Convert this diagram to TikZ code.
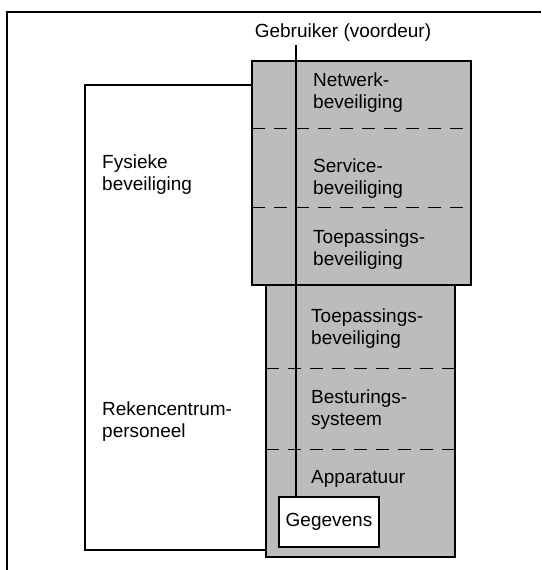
\documentclass[tikz,border=0pt]{standalone}
\usepackage{fontspec}
\setmainfont{Liberation Sans}
\definecolor{layerfill}{RGB}{188,188,188}
\begin{document}
\begin{tikzpicture}[x=1pt,y=-1pt,
  lbl/.style={anchor=base west,inner sep=0pt,align=left,
    font=\fontsize{19}{22}\selectfont},
  layerbox/.style={draw=black,line width=2pt,fill=layerfill},
  layersep/.style={line width=1pt,dash pattern=on 13pt off 9pt},
  wire/.style={line width=1.2pt},
  frameline/.style={line width=1.4pt}]
\useasboundingbox (0,0) rectangle (541,570);

% outer frame (top and left edge only)
\draw[frameline] (541,12) -- (7,12) -- (7,570);

% stacked layer boxes
\path[layerbox] (266,285) rectangle (455,557);
\path[layerbox] (252,61) rectangle (471,285);
\coordinate (upW) at (252,85);
\coordinate (loW) at (266,550);

% dashed separators between the layers
\draw[layersep] (252,128) -- (471,128);
\draw[layersep] (252,207) -- (471,207);
\draw[layersep] (266,368) -- (455,368);
\draw[layersep] (266,449) -- (455,449);

% bracket around the physical side
\draw[wire] (upW) -| (85,550) -- (loW);

% labels inside the stack
\node[lbl] (net1) at (313,86) {Netwerk-};
\node[lbl] (net2) at (313,108) {beveiliging};
\node[lbl] (srv1) at (313,172) {Service-};
\node[lbl] (srv2) at (313,194) {beveiliging};
\node[lbl] (app1) at (313,243) {Toepassings-};
\node[lbl] (app2) at (313,265) {beveiliging};
\node[lbl] (tp1) at (311,322) {Toepassings-};
\node[lbl] (tp2) at (311,344) {beveiliging};
\node[lbl] (os1) at (311,403) {Besturings-};
\node[lbl] (os2) at (311,425) {systeem};
\node[lbl] (hw) at (311,483) {Apparatuur};

% side labels
\node[lbl] (fys1) at (102,168) {Fysieke};
\node[lbl] (fys2) at (102,190) {beveiliging};
\node[lbl] (rek1) at (102,415) {Rekencentrum-};
\node[lbl] (rek2) at (102,437) {personeel};

% user entry and data
\node[lbl,anchor=base] (user) at (343,37) {Gebruiker (voordeur)};
\node[draw=black,line width=1.5pt,fill=white,minimum width=100pt,
  minimum height=50pt,inner sep=0pt,font=\fontsize{19}{22}\selectfont]
  (data) at (329,522) {Gegevens};

\draw[wire] (user.south -| 296,0) ++(0,4) -- (data.north -| 296,0);
\end{tikzpicture}
\end{document}
